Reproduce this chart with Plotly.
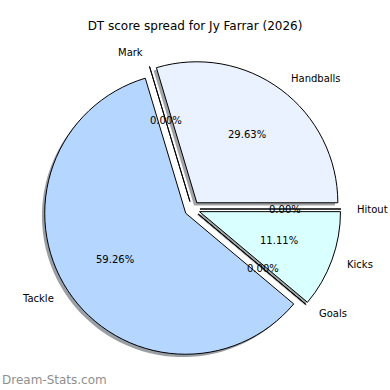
import math
import plotly.graph_objects as go

# ---- data ----
categories = ["Handballs", "Mark", "Tackle", "Goals", "Kicks", "Hitout"]
values = [8, 0, 16, 0, 3, 0]
title_text = "DT score spread for Jy Farrar (2026)"
watermark = "Dream-Stats.com"

# ---- style ----
slice_colors = ["#eaf1ff", "#c9e0ff", "#b5d6ff", "#c8f0ff", "#d9ffff", "#e6f6ff"]
pull = 0.055
W = H = 390
FONT = "DejaVu Sans"

# pie geometry (pixels, screen coords)
cx_px, cy_px, r_px = 192.2, 209.0, 141.0
half_box = r_px * (1 + pull)
dom_x = [(cx_px - half_box) / W, (cx_px + half_box) / W]
cy_up = H - cy_px
dom_y = [(cy_up - half_box) / H, (cy_up + half_box) / H]

shadow_off = 2.8

total = sum(values)
# first slice starts at 3 o'clock and runs counterclockwise
rotation = 90 - 360.0 * values[0] / total


def hex_rgb(h):
    h = h.lstrip("#")
    return tuple(int(h[i:i + 2], 16) for i in (0, 2, 4))


shadow_colors = []
for c in slice_colors:
    r, g, b = hex_rgb(c)
    shadow_colors.append(f"rgba({int(r*0.3)},{int(g*0.3)},{int(b*0.3)},0.5)")

fig = go.Figure()

# shadow
fig.add_trace(go.Pie(
    labels=categories, values=values, sort=False, direction="counterclockwise",
    rotation=rotation, pull=[pull] * len(values),
    marker=dict(colors=shadow_colors, line=dict(width=0)),
    textinfo="none", hoverinfo="skip", showlegend=False,
    domain=dict(x=[dom_x[0] - shadow_off / W, dom_x[1] - shadow_off / W],
                y=[dom_y[0] - shadow_off / H, dom_y[1] - shadow_off / H]),
))

# main pie
fig.add_trace(go.Pie(
    labels=categories, values=values, sort=False, direction="counterclockwise",
    rotation=rotation, pull=[pull] * len(values),
    marker=dict(colors=slice_colors, line=dict(color="#000000", width=1)),
    textinfo="none", showlegend=False,
    domain=dict(x=dom_x, y=dom_y),
))

# labels and percentages, positioned from the data like a classic pie
box = min((dom_x[1] - dom_x[0]) * W, (dom_y[1] - dom_y[0]) * H)
r = box / (2 + 2 * pull)
cx = W * (dom_x[0] + dom_x[1]) / 2
cy = H * (1 - (dom_y[0] + dom_y[1]) / 2)
annotations = []
start = 0.0
for lab, v in zip(categories, values):
    end = start + 360.0 * v / total
    mid = math.radians((start + end) / 2)
    c, s = math.cos(mid), math.sin(mid)
    sx = cx + pull * r * c
    sy = cy - pull * r * s
    lx, ly = sx + 1.1 * r * c, sy - 1.1 * r * s
    px, py = sx + 0.6 * r * c, sy - 0.6 * r * s
    annotations.append(dict(
        x=lx / W, y=1 - ly / H, xref="paper", yref="paper", text=lab,
        showarrow=False, xanchor="left" if c > 0 else "right", yanchor="middle",
        font=dict(family=FONT, size=10, color="#000000")))
    annotations.append(dict(
        x=px / W, y=1 - py / H, xref="paper", yref="paper",
        text=f"{100 * v / total:.2f}%",
        showarrow=False, xanchor="center", yanchor="middle",
        font=dict(family=FONT, size=10, color="#000000")))
    start = end

annotations.append(dict(
    x=0, y=1 - 380 / H, xref="paper", yref="paper", text=watermark,
    showarrow=False, xanchor="left", yanchor="middle",
    font=dict(family=FONT, size=12, color="#8f8f8f")))

fig.update_layout(
    width=W, height=H, margin=dict(l=0, r=0, t=0, b=0),
    paper_bgcolor="white", plot_bgcolor="white",
    title=dict(text=title_text, x=195 / W, y=1 - 26 / H, xanchor="center",
               yanchor="middle", xref="paper", yref="paper",
               font=dict(family=FONT, size=12, color="#000000")),
    annotations=annotations, showlegend=False,
)

fig.write_html("out.html",
               config={"displayModeBar": False},
               post_script="document.body.style.margin='0';"
                           "document.body.style.overflow='hidden';")
